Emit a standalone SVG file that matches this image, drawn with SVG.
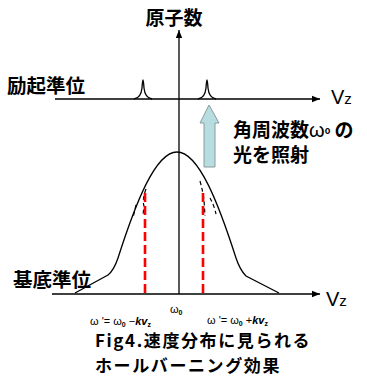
<svg xmlns="http://www.w3.org/2000/svg" width="367" height="380" viewBox="0 0 367 380">
<style>
.jp{font-family:"Noto Sans CJK JP","Noto Sans",sans-serif;font-weight:bold;fill:#000}
.cap{font-family:"Noto Sans CJK JP","Noto Sans",sans-serif;font-weight:bold;fill:#000;font-size:17px;letter-spacing:1.6px}
.ax{stroke:#000;stroke-width:1.3;fill:none}
.sym{font-family:"Liberation Sans","DejaVu Sans",sans-serif;fill:#000}
.red{stroke:#ff0000;stroke-width:2.6;stroke-dasharray:9 4;fill:none}
.hb{stroke:#000;stroke-width:1.2;stroke-dasharray:4 3;fill:none}
</style>
<defs>
<marker id="ah" viewBox="0 0 10 10" refX="10" refY="5" markerWidth="8" markerHeight="8" markerUnits="userSpaceOnUse" orient="auto">
<path d="M0,1 L10,5 L0,9 Z" fill="#000"/>
</marker>
</defs>
<rect width="367" height="380" fill="#fff"/>
<g id="connectors">
<line class="ax" x1="179" y1="294" x2="179" y2="30" marker-end="url(#ah)"/>
<line class="ax" x1="55" y1="99" x2="320" y2="99" marker-end="url(#ah)"/>
<line class="ax" x1="52" y1="294" x2="320" y2="294" marker-end="url(#ah)"/>
</g>
<g id="title"><text class="jp" x="174" y="25" font-size="19" text-anchor="middle">原子数</text></g>
<g id="excited-label"><text class="jp" x="7" y="93" font-size="19.5">励起準位</text></g>
<g id="ground-label"><text class="jp" x="13" y="287" font-size="19.5">基底準位</text></g>
<g id="vz-upper"><text class="sym" x="331" y="104" font-size="20">V<tspan font-size="15">z</tspan></text></g>
<g id="vz-lower"><text class="sym" x="326" y="306" font-size="20">V<tspan font-size="15">z</tspan></text></g>
<g id="peaks">
<path class="ax" d="M134,99 Q141,98 142,88 Q143,72 144,88 Q145,98 152,99"/>
<path class="ax" d="M198,99 Q205,98 206,88 Q207,72 208,88 Q209,98 216,99"/>
</g>
<g id="light-arrow">
<polygon points="209,105 219,123 215,123 215,167 204,167 204,123 200,123" fill="#b7dde0" stroke="#8a9a9c" stroke-width="1"/>
</g>
<g id="light-label">
<text class="jp" x="233" y="137" font-size="19">角周波数<tspan class="sym" font-weight="normal" font-size="20">ω</tspan><tspan font-size="9" dy="-3">o</tspan><tspan dy="3"> の</tspan></text>
<text class="jp" x="233" y="162" font-size="19">光を照射</text>
</g>
<g id="distribution">
<path class="ax" d="M75,293 L108,275 Q114,270 118,258 C135,205 155,152 177,152 C199,152 219,205 236,258 Q240,270 246,276 L279,293"/>
</g>
<g id="holes">
<path class="hb" d="M146,189 Q142,200 144,206 L143,215"/>
<path class="hb" d="M136,205 L133,218"/>
<path class="hb" d="M200,181 Q203,192 204,200 L205,216"/>
<path class="hb" d="M210,198 Q214,205 216,214"/>
</g>
<g id="red-lines">
<line class="red" x1="145" y1="193" x2="145" y2="293"/>
<line class="red" x1="203" y1="193" x2="203" y2="293"/>
</g>
<g id="omega0"><text class="sym" x="170" y="313" font-size="11">ω<tspan font-size="7" dy="2" font-weight="bold">0</tspan></text></g>
<g id="omega-minus"><text class="sym" x="90" y="325" font-size="11">ω '= ω<tspan font-size="7" dy="2" font-weight="bold">0</tspan><tspan dy="-2"> −</tspan><tspan font-weight="bold" font-style="italic">kv</tspan><tspan font-size="7" dy="2" font-weight="bold">z</tspan></text></g>
<g id="omega-plus"><text class="sym" x="207" y="324" font-size="11">ω '= ω<tspan font-size="7" dy="2" font-weight="bold">0</tspan><tspan dy="-2"> +</tspan><tspan font-weight="bold" font-style="italic">kv</tspan><tspan font-size="7" dy="2" font-weight="bold">z</tspan></text></g>
<g id="caption">
<text class="cap" x="95" y="347">Fig4.速度分布に見られる</text>
<text class="cap" x="95" y="372">ホールバーニング効果</text>
</g>
</svg>
